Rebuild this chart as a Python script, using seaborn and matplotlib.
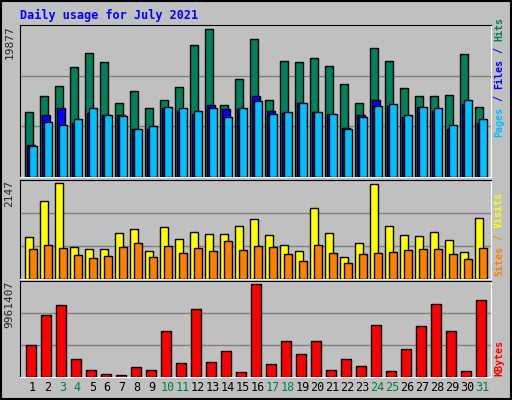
import matplotlib
matplotlib.use("Agg")
import matplotlib.pyplot as plt
import seaborn as sns

# ── Data ──────────────────────────────────────────────────────────────────────
days = list(range(1, 32))
weekend = [3, 4, 10, 11, 17, 18, 24, 25, 31]

hits = [8814, 10973, 12322, 14750, 16639, 15425, 10028, 11647, 9354, 10433,
        12187, 17718, 19877, 9758, 13266, 18528, 10433, 15560, 15425, 15964,
        14885, 12592, 10028, 17313, 15560, 12052, 10973, 10973, 11108, 16504, 9489]
files = [4362, 8409, 9354, 7330, 8679, 8409, 8409, 6521, 6521, 9354,
         8949, 8544, 9758, 9219, 9219, 10973, 8949, 8679, 10028, 8814,
         8544, 6656, 8409, 10433, 9624, 8140, 9489, 8949, 6521, 9893, 7330]
pages = [4227, 7465, 7060, 7870, 9354, 8409, 8274, 6521, 6925, 9489,
         9354, 8949, 9354, 8140, 9354, 10298, 8544, 8814, 10028, 8814,
         8544, 6521, 8140, 9624, 9893, 8409, 9489, 9354, 7060, 10433, 7870]
visits = [933, 1750, 2147, 723, 677, 677, 1027, 1120, 630, 1167,
          887, 1050, 1003, 1003, 1190, 1330, 980, 770, 630, 1587,
          1027, 490, 793, 2124, 1190, 980, 957, 1050, 863, 607, 1354]
sites = [677, 770, 700, 537, 467, 513, 723, 793, 490, 747,
         583, 700, 630, 840, 653, 747, 723, 560, 397, 770,
         583, 350, 560, 583, 607, 653, 677, 677, 560, 443, 700]
kbytes = [3417370, 6580255, 7670905, 1890460, 799810, 363550, 254485, 1017940, 799810, 4944280,
          1454200, 7234645, 1563265, 2762980, 581680, 9961407, 1345135, 3853630, 2435785, 3853630,
          799810, 1890460, 1127005, 5598670, 690745, 2981110, 5489615, 7779970, 4944280, 690745, 8216230]

# ── Style ─────────────────────────────────────────────────────────────────────
sns.set_style("white")
plt.rcParams["font.family"] = ["DejaVu Sans Mono"]
GREY = "#c0c0c0"
MONO = "DejaVu Sans Mono"

fig = plt.figure(figsize=(5.12, 4.0), dpi=100, facecolor=GREY)
W, H = 512, 400


def panel(top, bottom):
    ax = fig.add_axes([20 / W, 1 - bottom / H, 471 / W, (bottom - top) / H])
    ax.set_facecolor(GREY)
    ax.set_xlim(0, 31.4)
    ax.set_xticks([])
    ax.set_yticks([])
    for s in ("top", "left"):
        ax.spines[s].set_color("black")
    for s in ("bottom", "right"):
        ax.spines[s].set_color("white")
    return ax


def setup_y(ax, vmax, label):
    top = vmax * 1.03
    ax.set_ylim(0, top)
    for f in (1 / 3, 2 / 3):
        ax.axhline(top * f, color="#808080", lw=1, zorder=0)
    ax.text(-0.012, 1.0, label, transform=ax.transAxes, rotation=90,
            ha="right", va="top", fontsize=8, family=MONO)


x0 = [d - 1 for d in days]
kw = dict(edgecolor="black", linewidth=1, zorder=3)

ax1 = panel(25, 177)
setup_y(ax1, max(hits), str(max(hits)))
ax1.bar([x + 0.597 for x in x0], hits, width=0.49, color="#00805c", **kw)
ax1.bar([x + 0.73 for x in x0], files, width=0.49, color="#0000ff", **kw)
ax1.bar([x + 0.863 for x in x0], pages, width=0.49, color="#00c0ff", **kw)

ax2 = panel(180, 279)
setup_y(ax2, max(visits), str(max(visits)))
ax2.bar([x + 0.62 for x in x0], visits, width=0.53, color="#ffff00", **kw)
ax2.bar([x + 0.865 for x in x0], sites, width=0.49, color="#ff8000", **kw)

ax3 = panel(281, 377)
setup_y(ax3, max(kbytes), str(max(kbytes)))
ax3.bar([x + 0.755 for x in x0], kbytes, width=0.667, color="#ff0000", **kw)

for d, x in zip(days, x0):
    ax3.text(x + 0.82, -0.04, str(d), transform=ax3.get_xaxis_transform(),
             ha="center", va="top", fontsize=8.5, family=MONO,
             color="#008040" if d in weekend else "black")

SIDE_FS = 7.2
STEP = 0.602 * SIDE_FS * 100 / 72  # char advance in px


def side_label(parts, y_bottom):
    y = y_bottom
    for txt, col in parts:
        fig.text(499 / W, y / H, txt, rotation=90, ha="center", va="bottom",
                 fontsize=SIDE_FS, family=MONO, fontweight="bold", color=col)
        y += len(txt) * STEP


side_label([("Pages", "#00c0ff"), (" / ", "#0000ff"), ("Files", "#0000ff"),
            (" / ", "#0000ff"), ("Hits", "#00805c")], 400 - 137)
side_label([("Sites", "#ff8000"), (" / ", "#ff8000"), ("Visits", "#ffff00")], 400 - 276)
side_label([("KBytes", "#ff0000")], 400 - 376)

fig.text(20 / W, 1 - 15 / H, "Daily usage for July 2021", ha="left", va="center",
         fontsize=8.5, family=MONO, fontweight="bold", color="#0000ff")

# outer border
fig.patches.append(plt.Rectangle((0.002, 0.002), 0.996, 0.996, transform=fig.transFigure,
                                 fill=False, edgecolor="black", linewidth=1.5))

fig.savefig("out.png", dpi=100, facecolor=GREY)
